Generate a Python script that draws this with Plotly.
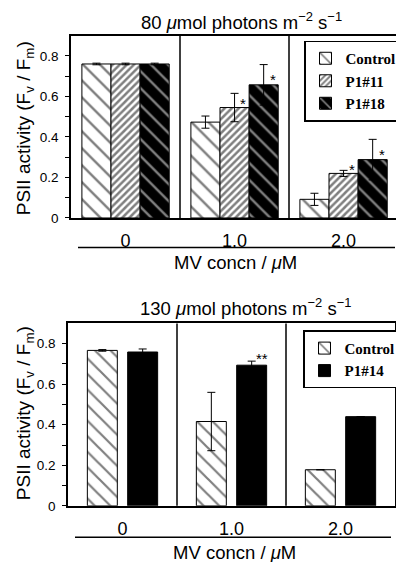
import plotly.graph_objects as go

W, H = 404, 562

# ---------------- data ----------------
conc_labels = ["0", "1.0", "2.0"]
groups = [0, 1, 2]

# top panel: 80 umol photons
top_control = [0.760, 0.473, 0.092]
top_control_err = [0.004, 0.030, 0.030]
top_p11 = [0.760, 0.545, 0.220]
top_p11_err = [0.004, 0.070, 0.015]
top_p18 = [0.760, 0.657, 0.288]
top_p18_err = [0.004, 0.100, 0.100]
top_sig_p11 = ["", "*", "*"]
top_sig_p18 = ["", "*", "*"]

# bottom panel: 130 umol photons
bot_control = [0.767, 0.416, 0.178]
bot_control_err = [0.004, 0.144, None]
bot_p14 = [0.759, 0.694, 0.440]
bot_p14_err = [0.015, 0.020, None]
bot_sig_p14 = ["", "**", ""]

yticks = [0, 0.2, 0.4, 0.6, 0.8]
ytick_labels = ["0", "0.2", "0.4", "0.6", "0.8"]

SANS = "Liberation Sans"
SERIF = "Liberation Serif"


def px_x(p):
    return p / W


def px_y(p):
    return 1 - p / H


fig = go.Figure()

err_style = dict(type="data", color="black", thickness=1, width=4, visible=True)

# top bars (width / offsets)
tw = 0.267
top_specs = [
    ("Control", top_control, top_control_err, -0.4,
     dict(shape="\\", fgcolor="black", size=12, solidity=0.2, fillmode="overlay"), "white"),
    ("P1#11", top_p11, top_p11_err, -0.4 + tw,
     dict(shape="/", fgcolor="black", size=5, solidity=0.5, fillmode="overlay"), "white"),
    ("P1#18", top_p18, top_p18_err, -0.4 + 2 * tw,
     dict(shape="\\", fgcolor="white", size=12, solidity=0.2, fillmode="overlay"), "black"),
]
for name, vals, errs, off, pat, col in top_specs:
    fig.add_trace(go.Bar(
        x=groups, y=vals, name=name, width=tw, offset=off,
        marker=dict(color=col, pattern=pat, line=dict(color="black", width=1)),
        error_y=dict(array=errs, **err_style),
        xaxis="x", yaxis="y", legend="legend",
    ))

bw = 0.275
bot_specs = [
    ("Control", bot_control, bot_control_err, -0.185 - bw / 2,
     dict(shape="\\", fgcolor="black", size=11, solidity=0.2, fillmode="overlay"), "white"),
    ("P1#14", bot_p14, bot_p14_err, 0.185 - bw / 2, None, "black"),
]
for name, vals, errs, off, pat, col in bot_specs:
    marker = dict(color=col, line=dict(color="black", width=1))
    if pat:
        marker["pattern"] = pat
    fig.add_trace(go.Bar(
        x=groups, y=vals, name=name, width=bw, offset=off,
        marker=marker,
        error_y=dict(array=errs, **err_style),
        xaxis="x2", yaxis="y2", legend="legend2",
    ))

star_font = dict(family=SANS, size=15, color="black")
annotations = []
for g, v, s in zip(groups, top_p11, top_sig_p11):
    if s:
        annotations.append(dict(x=g + (-0.4 + 1.5 * tw), y=v, xref="x", yref="y", text=s,
                                showarrow=False, xshift=8, yshift=4, xanchor="center",
                                yanchor="middle", font=star_font))
for g, v, s in zip(groups, top_p18, top_sig_p18):
    if s:
        annotations.append(dict(x=g + (-0.4 + 2.5 * tw), y=v, xref="x", yref="y", text=s,
                                showarrow=False, xshift=9, yshift=5, xanchor="center",
                                yanchor="middle", font=star_font))
for g, v, s in zip(groups, bot_p14, bot_sig_p14):
    if s:
        annotations.append(dict(x=g + 0.185, y=v, xref="x2", yref="y2", text=s,
                                showarrow=False, xshift=10, yshift=7, xanchor="center",
                                yanchor="middle", font=star_font))


def label(xp, yp, text, angle=0, size=18.5):
    return dict(x=px_x(xp), y=px_y(yp), xref="paper", yref="paper", showarrow=False,
                xanchor="center", yanchor="middle", textangle=angle, text=text,
                font=dict(family=SANS, size=size, color="black"))


annotations += [
    label(234, 13, "80 <i>μ</i>mol photons m<sup>−2</sup> s<sup>−1</sup>", 0, 18.5),
    label(237, 303, "130 <i>μ</i>mol photons m<sup>−2</sup> s<sup>−1</sup>", 0, 18.5),
    label(17, 122, "PSII activity (F<sub>v</sub> / F<sub>m</sub>)", -90, 19),
    label(17, 411, "PSII activity (F<sub>v</sub> / F<sub>m</sub>)", -90, 19),
    label(228, 258, "MV concn / <i>μ</i>M", 0, 18.5),
    label(226, 552, "MV concn / <i>μ</i>M", 0, 18.5),
]

shapes = []
for xr, yr in (("x", "y domain"), ("x2", "y2 domain")):
    for b in (0.5, 1.5):
        shapes.append(dict(type="line", xref=xr, yref=yr, x0=b, x1=b, y0=0, y1=1,
                           line=dict(color="black", width=1.5)))
shapes += [
    dict(type="line", xref="paper", yref="paper", x0=px_x(70), x1=px_x(387),
         y0=px_y(243), y1=px_y(243), line=dict(color="black", width=1.5)),
    dict(type="line", xref="paper", yref="paper", x0=px_x(67), x1=px_x(383),
         y0=px_y(537), y1=px_y(537), line=dict(color="black", width=1.5)),
]

xaxis_common = dict(range=[-0.5, 2.5], tickvals=groups, ticktext=conc_labels, ticks="",
                    showline=True, linecolor="black", linewidth=1.5, mirror=True,
                    showgrid=False, zeroline=False, ticklabelstandoff=6,
                    tickfont=dict(family=SANS, size=18, color="black"), fixedrange=True)
yaxis_common = dict(range=[0, 0.9], tickvals=yticks, ticktext=ytick_labels, ticks="outside",
                    ticklen=4, tickwidth=1, tickcolor="black",
                    minor=dict(tickvals=[0.1, 0.3, 0.5, 0.7], ticks="outside", ticklen=4,
                               tickcolor="black", tickwidth=1),
                    showline=True, linecolor="black", linewidth=1.5, mirror=True,
                    showgrid=False, zeroline=False, ticklabelstandoff=4,
                    tickfont=dict(family=SANS, size=13.5, color="black"), fixedrange=True)
yright_common = dict(range=[0, 0.9], tickvals=[0.1, 0.2, 0.3, 0.4, 0.5, 0.6, 0.7, 0.8],
                     ticks="inside", ticklen=4, tickcolor="black", tickwidth=1,
                     showticklabels=False, showline=False, showgrid=False, zeroline=False,
                     side="right", fixedrange=True)

top_dom_y = [px_y(213), px_y(28)]
bot_dom_y = [px_y(505), px_y(320)]

legend_common = dict(bordercolor="black", borderwidth=1.5, bgcolor="white",
                     font=dict(family=SERIF, size=15, color="black", weight="bold"),
                     xanchor="left", yanchor="top", tracegroupgap=0, itemclick=False)

fig.update_layout(
    width=W, height=H,
    margin=dict(l=0, r=0, t=0, b=0),
    paper_bgcolor="white", plot_bgcolor="white",
    showlegend=True,
    xaxis=dict(domain=[px_x(63), px_x(390)], anchor="y", **xaxis_common),
    yaxis=dict(domain=top_dom_y, anchor="x", **yaxis_common),
    yaxis3=dict(overlaying="y", anchor="x", **yright_common),
    xaxis2=dict(domain=[px_x(60), px_x(387)], anchor="y2", **xaxis_common),
    yaxis2=dict(domain=bot_dom_y, anchor="x2", **yaxis_common),
    yaxis4=dict(overlaying="y2", anchor="x2", **yright_common),
    legend=dict(x=px_x(296), y=px_y(33), **legend_common),
    legend2=dict(x=px_x(295), y=px_y(327), **legend_common),
    annotations=annotations,
    shapes=shapes,
)

fig.write_html("out.html")
